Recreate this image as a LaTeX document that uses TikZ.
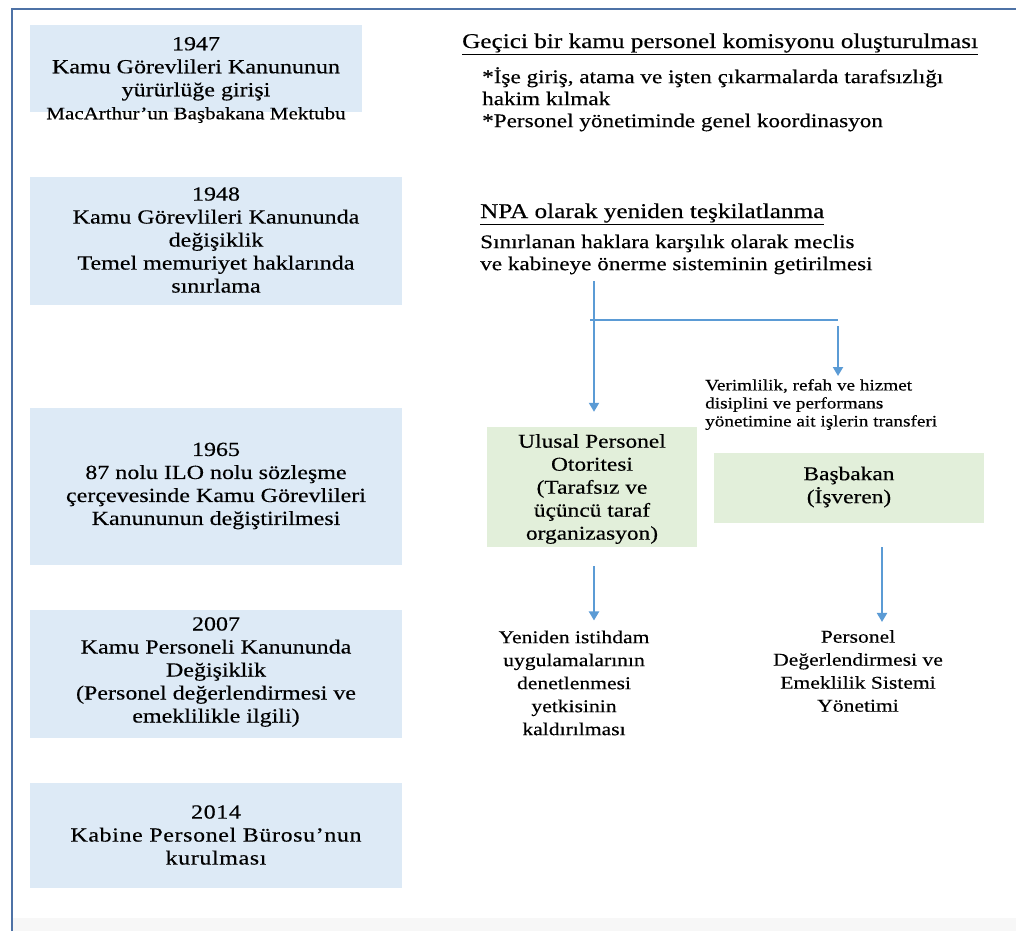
\documentclass[tikz,border=0pt]{standalone}
\usepackage{fontspec}
\setmainfont{Liberation Serif}[FakeStretch=1.2, FakeBold=0.35]
\newfontfamily\spacedserif{Liberation Serif}[FakeStretch=1.2, FakeBold=0.35, LetterSpace=3]
\usetikzlibrary{arrows.meta}
\definecolor{boxblue}{HTML}{DDEAF6}
\definecolor{boxgreen}{HTML}{E2EFDA}
\definecolor{arrowblue}{HTML}{5B9BD5}
\definecolor{framblue}{HTML}{4E72A6}
\definecolor{footgray}{HTML}{F7F7F7}
\tikzset{
  yearbox/.style={fill=boxblue, draw=none, inner sep=0pt},
  orgbox/.style={fill=boxgreen, draw=none, inner sep=0pt},
  boxtext/.style={align=center, inner sep=0pt, font=\fontsize{20}{23}\selectfont},
  orgtext/.style={align=center, inner sep=0pt, font=\fontsize{19.5}{23}\selectfont},
  outtext/.style={align=center, inner sep=0pt, font=\fontsize{18}{23}\selectfont},
  headtext/.style={align=left, inner sep=0pt, font=\fontsize{21}{23}\selectfont},
  bodytext/.style={align=left, inner sep=0pt, font=\fontsize{19.3}{22}\selectfont},
  smalltext/.style={align=left, inner sep=0pt, font=\fontsize{16}{18}\selectfont},
  flow/.style={draw=arrowblue, line width=2pt, -{Triangle[width=10pt,length=9pt]}},
  flowline/.style={draw=arrowblue, line width=2pt},
}
\begin{document}
\begin{tikzpicture}[x=1pt,y=-1pt]
\useasboundingbox (0,0) rectangle (1016,931);
% page frame and footer strip
\fill[footgray] (13,918) rectangle (1016,931);
\draw[framblue, line width=2.5pt] (12,931) -- (12,9) -- (1016,9);

% timeline boxes
\node[yearbox, minimum width=332pt, minimum height=87pt] (b1) at (196,68.5) {};
\node[boxtext] (t1) at (196,80) {1947\\Kamu Görevlileri Kanununun\\yürürlüğe girişi\\{\fontsize{17.5}{23}\selectfont MacArthur’un Başbakana Mektubu}};
\node[yearbox, minimum width=372pt, minimum height=128pt] (b2) at (216,241) {};
\node[boxtext] (t2) at (216,240) {1948\\Kamu Görevlileri Kanununda\\değişiklik\\Temel memuriyet haklarında\\sınırlama};
\node[yearbox, minimum width=372pt, minimum height=157pt] (b3) at (216,486.5) {};
\node[boxtext] (t3) at (216,486) {1965\\87 nolu ILO nolu sözleşme\\çerçevesinde Kamu Görevlileri\\Kanununun değiştirilmesi};
\node[yearbox, minimum width=372pt, minimum height=128pt] (b4) at (216,674) {};
\node[boxtext] (t4) at (216,672) {2007\\Kamu Personeli Kanununda\\Değişiklik\\(Personel değerlendirmesi ve\\emeklilikle ilgili)};
\node[yearbox, minimum width=372pt, minimum height=105pt] (b5) at (216,835.5) {};
\node[boxtext, font=\spacedserif\fontsize{20}{23}\selectfont] (t5) at (216,835) {2014\\Kabine Personel Bürosu’nun\\kurulması};

% 1947 reform
\node[headtext, anchor=west] (h1) at (462,44) {\underline{Geçici bir kamu personel komisyonu oluşturulması}};
\node[bodytext, anchor=north west] (l1) at (482,67) {*İşe giriş, atama ve işten çıkarmalarda tarafsızlığı\\hakim kılmak\\*Personel yönetiminde genel koordinasyon};

% 1948 reform
\node[headtext, anchor=west] (h2) at (480,214) {\underline{NPA olarak yeniden teşkilatlanma}};
\node[bodytext, anchor=west] (s2) at (480,254.5) {Sınırlanan haklara karşılık olarak meclis\\ve kabineye önerme sisteminin getirilmesi};

% organisations
\node[orgbox, minimum width=210pt, minimum height=120pt] (npa) at (592,487) {};
\node[orgtext] (tnpa) at (592,489) {Ulusal Personel\\Otoritesi\\(Tarafsız ve\\üçüncü taraf\\organizasyon)};
\node[smalltext, anchor=north west] (tr) at (705,379) {Verimlilik, refah ve hizmet\\disiplini ve performans\\yönetimine ait işlerin transferi};
\node[orgbox, minimum width=270pt, minimum height=70pt] (pm) at (849,488) {};
\node[orgtext] (tpm) at (849,487) {Başbakan\\(İşveren)};

% outcomes
\node[outtext] (o1) at (574,683) {Yeniden istihdam\\uygulamalarının\\denetlenmesi\\yetkisinin\\kaldırılması};
\node[outtext] (o2) at (858,671) {Personel\\Değerlendirmesi ve\\Emeklilik Sistemi\\Yönetimi};

% connectors
\coordinate (split) at (594,320);
\coordinate (corner) at (838,320);
\draw[flow, shorten <=7pt, shorten >=15pt] (s2.south -| split) -- (npa.north -| split);
\draw[flowline] ([xshift=-4pt]split) -- (corner);
\draw[flow, shorten <=6pt, shorten >=3pt] (corner) -- (tr.north -| corner);
\draw[flow, shorten <=19pt, shorten >=10pt] (npa.south -| split) -- (o1.north -| split);
\draw[flow, shorten <=24pt, shorten >=8pt] (pm.south -| 882,0) -- (o2.north -| 882,0);
\end{tikzpicture}
\end{document}
